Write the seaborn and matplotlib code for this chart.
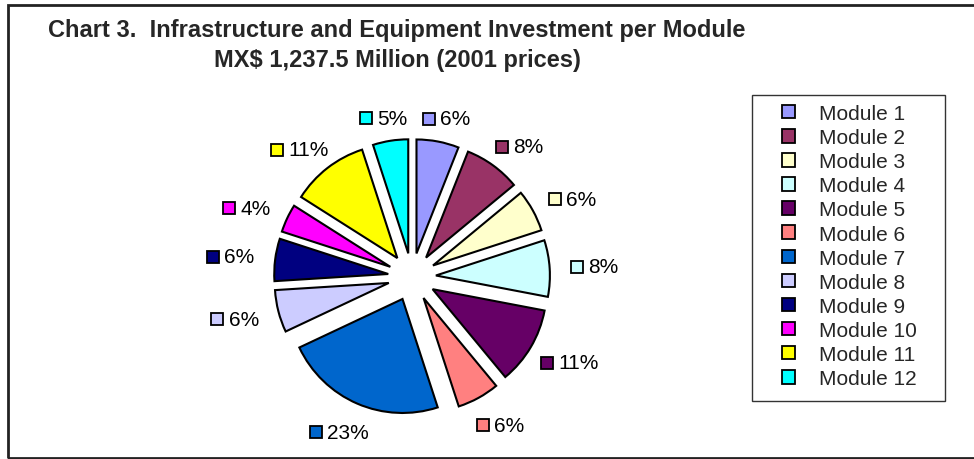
import matplotlib
matplotlib.use("Agg")
import matplotlib.pyplot as plt
import matplotlib.transforms as mtransforms
import seaborn as sns
import numpy as np
from matplotlib.patches import Rectangle

modules = ["Module 1", "Module 2", "Module 3", "Module 4", "Module 5", "Module 6",
           "Module 7", "Module 8", "Module 9", "Module 10", "Module 11", "Module 12"]
shares = [6, 8, 6, 8, 11, 6, 23, 6, 6, 4, 11, 5]
colors = ["#9999FF", "#993366", "#FFFFCC", "#CCFFFF", "#660066", "#FF8080",
          "#0066CC", "#CCCCFF", "#000080", "#FF00FF", "#FFFF00", "#00FFFF"]
title_lines = ["Chart 3.  Infrastructure and Equipment Investment per Module",
               "MX$ 1,237.5 Million (2001 prices)"]

sns.set_theme(style="white")
plt.rcParams['font.family'] = ['Liberation Sans', 'DejaVu Sans']

W, H = 974, 460
fig = plt.figure(figsize=(W / 100, H / 100), dpi=100)
fig.patch.set_facecolor("white")

# pie axes: center (412,278) px from top, 1 unit = `unit` px, limits +-2
cx, cy, unit = 412, 278, 114
half = 2 * unit
ax = fig.add_axes([(cx - half) / W, (H - cy - half) / H, 2 * half / W, 2 * half / H])

palette = sns.color_palette(colors)
expl = 0.21
wedges, _ = ax.pie(shares, colors=palette, startangle=90, counterclock=False,
                   explode=[expl] * len(shares), radius=1.0,
                   wedgeprops=dict(edgecolor="black", linewidth=1.5))
ax.set_xlim(-2, 2)
ax.set_ylim(-2, 2)
ax.set_aspect("equal")
ax.axis("off")

fig.canvas.draw()
renderer = fig.canvas.get_renderer()

lab_fs = 15
total = float(sum(shares))
cum = np.cumsum([0] + shares)
r_out = (1 + expl) * unit
gap, hw = 15, 30
for i, (v, c) in enumerate(zip(shares, palette)):
    mid = np.deg2rad((cum[i] + v / 2) / total * 360.0)  # clockwise from top
    ux, uy = np.sin(mid), np.cos(mid)
    hh = 8 if uy > 0 else 16
    bx = (r_out + gap) * ux + hw * ux
    by = (r_out + gap) * uy + hh * uy
    t = ax.annotate(f"{v}%", xy=(0, 0), xytext=(0, 0), textcoords="offset pixels",
                    ha="left", va="center", fontsize=lab_fs, color="black",
                    annotation_clip=False)
    tw = t.get_window_extent(renderer).width
    bw = 13 + 5 + tw
    left = bx - bw / 2
    t.set_position((left + 18, by))
    ln, = ax.plot([0], [0], marker="s", markersize=9, markerfacecolor=c,
                  markeredgecolor="black", markeredgewidth=1.3, linestyle="none",
                  clip_on=False)
    ln.set_transform(ax.transData + mtransforms.ScaledTranslation(
        (left + 6.5) / 100, by / 100, fig.dpi_scale_trans))

# title
fig.text(397 / W, 1 - 30 / H, title_lines[0], ha="center", va="center",
         fontsize=17, fontweight="bold")
fig.text(397 / W, 1 - 60 / H, title_lines[1], ha="center", va="center",
         fontsize=17, fontweight="bold")

# legend frame
fig.patches.append(Rectangle((752 / W, 1 - 402 / H), (945 - 752) / W, (402 - 96) / H,
                             transform=fig.transFigure, fill=False,
                             edgecolor="#333333", linewidth=1.0))
leg = fig.legend(wedges, modules, loc="upper left",
                 bbox_to_anchor=(782 / W, 1 - 105 / H),
                 fontsize=15, frameon=False,
                 handlelength=0.62, handleheight=0.62, handletextpad=1.15,
                 labelspacing=0.245, borderpad=0, borderaxespad=0)
for h in leg.legend_handles:
    h.set_linewidth(1.3)
    h.set_edgecolor("black")

# outer chart border
fig.patches.append(Rectangle((8 / W, 1 - 459 / H), (W + 20 - 8) / W, (459 - 6) / H,
                             transform=fig.transFigure, fill=False,
                             edgecolor="#222222", linewidth=2))

fig.savefig("out.png", dpi=100, facecolor="white")
